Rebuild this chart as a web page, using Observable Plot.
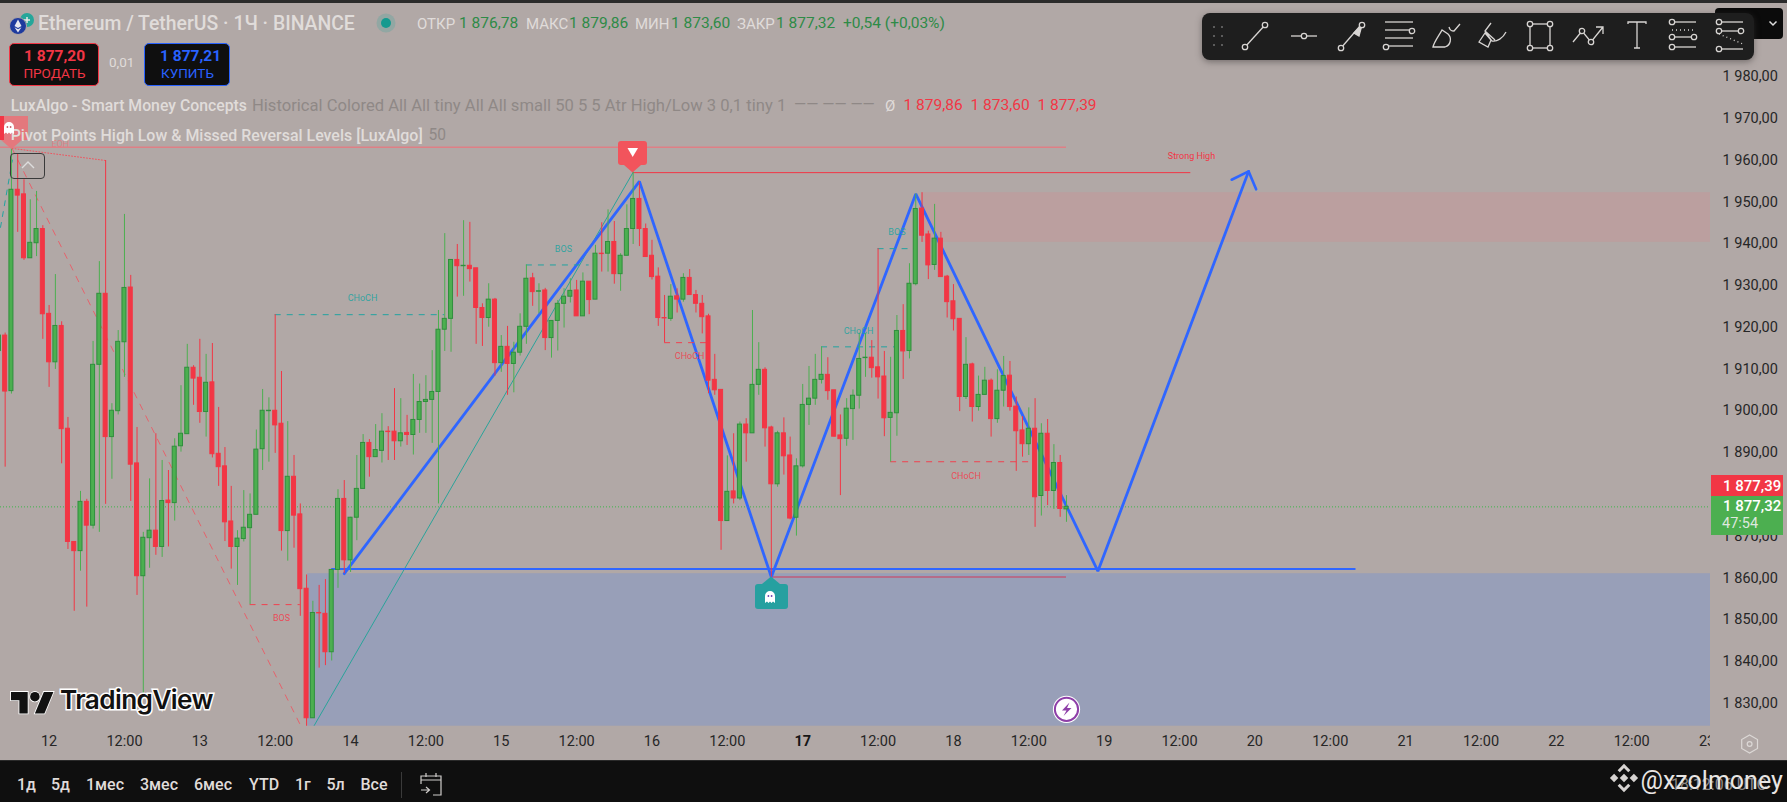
<!DOCTYPE html>
<html lang="ru">
<head>
<meta charset="utf-8">
<title>Ethereum / TetherUS · 1Ч · BINANCE</title>
<script src="https://cdn.jsdelivr.net/npm/d3@7"></script>
<script src="https://cdn.jsdelivr.net/npm/@observablehq/plot@0.6"></script>
<style>
html,body{margin:0;padding:0;width:1787px;height:802px;overflow:hidden;background:#b1a8a6;font-family:Roboto,"Noto Sans",sans-serif}
#chart{position:absolute;left:0;top:0;width:1787px;height:760px}
#chart svg{display:block}
.t{position:absolute;white-space:pre;line-height:1;transform:translateY(-50%)}
.box{position:absolute;box-sizing:border-box}
#topline{position:absolute;left:0;top:0;width:1787px;height:3px;background:#2b2b2b}
#bottom{position:absolute;left:0;top:760px;width:1787px;height:42px;background:#0f0f0f;border-top:1px solid #2a2a2a;box-sizing:border-box}
svg.ic{position:absolute;overflow:visible}
</style>
</head>
<body>
<div id="chart"></div>
<div id="overlay"></div>
<script>
// Candles: hour index since 12th 00:00, first candle at firstHour
const firstHour = -8;
const sideList = (
  "grgrrggr"+
  "rgrrrgrggr"+"gggrrggrgr"+"gggrrgrrrr"+"ggggggrrgr"+"rrgrrggrgg"+
  "grggrrgrgg"+"gggggrgrrr"+"grgrgggrgr"+"ggggrgrgrg"+"rgggrrrrrg"+
  "rgrrrrrrgr"+"grggrrgrrg"+"ggggrrrggg"+"grrrggrggr"+"rgrrrrgrgg"+
  "rggrrrgrgr"+"grg").split("");
const bodyTop = [1918.0,1918.0,1952.9,1952.9,1951.8,1940.2,1943.5,1943.5,
  1923.2,1920.3,1920.3,1895.7,1868.6,1878.2,1878.2,1911.0,1928.0,1928.0,
  1900.0,1916.5,1929.4,1929.5,1887.4,1869.6,1871.3,1871.3,1878.4,1878.5,
  1891.4,1894.5,1910.3,1910.3,1907.9,1906.7,1906.8,1889.7,1886.7,1873.5,
  1869.4,1872.0,1875.1,1890.7,1900.0,1900.0,1900.0,1896.9,1884.2,1884.2,
  1875.2,1857.4,1851.6,1851.6,1851.4,1861.9,1878.9,1878.9,1874.4,1881.3,
  1892.3,1892.3,1890.6,1895.0,1895.0,1895.0,1894.6,1894.7,1897.8,1902.1,
  1902.6,1904.5,1919.4,1922.0,1936.1,1936.1,1934.7,1934.7,1934.1,1924.6,
  1926.6,1926.6,1915.3,1915.3,1913.9,1920.1,1931.6,1931.7,1928.6,1928.8,
  1921.5,1925.6,1927.3,1928.7,1928.8,1930.9,1930.9,1937.6,1937.6,1940.4,
  1940.4,1937.1,1943.5,1950.7,1950.7,1943.5,1937.1,1932.1,1922.2,1927.3,
  1927.4,1931.8,1931.8,1927.7,1925.6,1922.6,1907.4,1905.0,1880.6,1880.7,
  1896.7,1896.7,1906.2,1909.8,1909.8,1896.0,1894.6,1894.6,1889.3,1886.7,
  1901.4,1902.9,1907.4,1908.6,1908.6,1904.9,1894.1,1900.5,1903.6,1912.4,
  1912.7,1912.7,1910.4,1908.2,1899.5,1919.1,1919.1,1930.4,1948.3,1948.4,
  1942.2,1941.2,1941.2,1932.1,1926.2,1922.0,1911.0,1911.1,1903.8,1907.2,
  1907.2,1904.8,1908.3,1908.4,1901.0,1895.3,1895.7,1895.7,1894.5,1894.5,
  1887.5,1887.5,1877.0];
const bodyBottom = [1914.3,1904.6,1904.7,1951.5,1936.5,1936.5,1940.1,1923.1,
  1911.6,1911.6,1895.6,1868.6,1866.4,1866.4,1872.5,1872.5,1911.0,1893.7,
  1893.7,1899.9,1916.4,1887.1,1860.4,1860.4,1869.5,1867.4,1867.4,1877.9,
  1877.9,1891.5,1894.4,1907.7,1899.7,1899.7,1889.6,1886.5,1873.3,1867.4,
  1867.4,1869.3,1871.9,1875.1,1890.8,1899.9,1896.5,1871.2,1871.2,1874.9,
  1857.3,1826.4,1826.4,1851.5,1842.2,1842.2,1861.9,1864.2,1864.2,1874.4,
  1881.3,1888.9,1888.9,1890.4,1894.9,1892.7,1892.7,1894.2,1894.2,1897.8,
  1902.1,1902.6,1904.5,1919.4,1922.0,1934.6,1934.6,1933.9,1924.6,1922.2,
  1922.2,1911.4,1911.4,1911.2,1911.2,1913.9,1920.1,1928.4,1928.5,1917.4,
  1917.4,1921.5,1925.6,1927.3,1922.6,1922.6,1926.5,1926.6,1937.5,1937.6,
  1932.7,1932.7,1937.1,1943.5,1943.5,1936.8,1932.0,1922.2,1922.1,1922.0,
  1926.6,1926.6,1927.7,1925.6,1922.4,1907.2,1904.9,1873.6,1873.6,1879.0,
  1879.0,1894.6,1894.6,1906.2,1895.8,1882.4,1882.4,1889.1,1874.2,1874.4,
  1886.7,1901.4,1902.9,1907.4,1904.7,1893.8,1893.2,1893.3,1900.4,1903.6,
  1912.6,1910.2,1908.0,1898.2,1898.3,1899.4,1914.2,1914.3,1930.3,1941.9,
  1934.8,1934.9,1932.0,1926.0,1921.9,1903.3,1903.3,1900.9,1900.9,1903.8,
  1898.0,1898.0,1904.8,1900.9,1895.1,1892.0,1892.0,1879.3,1879.6,1880.8,
  1880.8,1876.5,1876.4];
const highs = [1918.5,1918.6,1963.0,1961.5,1955.3,1950.5,1952.5,1944.3,
  1925.2,1932.6,1921.3,1898.4,1868.6,1880.7,1878.8,1916.6,1935.7,1959.9,
  1901.7,1919.2,1947.0,1932.4,1896.0,1870.9,1883.7,1894.5,1888.1,1885.7,
  1893.3,1906.0,1915.9,1910.8,1917.1,1913.5,1916.1,1900.8,1891.2,1881.9,
  1871.3,1880.9,1880.1,1895.4,1905.1,1903.1,1923.0,1909.4,1897.4,1889.3,
  1877.7,1860.7,1854.4,1858.2,1859.6,1861.9,1881.1,1883.3,1874.5,1889.3,
  1894.3,1893.1,1896.7,1899.3,1896.2,1905.3,1902.9,1898.9,1908.7,1906.4,
  1908.4,1914.4,1924.0,1942.4,1936.1,1939.8,1945.5,1945.1,1934.1,1925.6,
  1930.4,1926.9,1918.0,1920.2,1916.4,1923.2,1934.9,1932.9,1930.4,1929.3,
  1921.5,1926.4,1929.2,1931.6,1931.2,1933.0,1930.9,1939.6,1945.0,1948.1,
  1945.3,1937.6,1949.3,1957.1,1954.7,1944.7,1940.8,1934.2,1927.6,1930.2,
  1929.2,1932.8,1933.8,1928.8,1927.6,1923.1,1913.5,1905.0,1889.2,1894.5,
  1897.3,1898.1,1924.0,1916.3,1910.3,1896.3,1895.1,1898.3,1893.7,1888.5,
  1906.3,1910.6,1913.5,1915.3,1912.7,1904.9,1899.0,1902.9,1905.0,1918.6,
  1918.4,1916.8,1938.8,1914.2,1912.8,1922.8,1925.4,1935.2,1951.9,1952.2,
  1943.0,1949.4,1942.7,1932.4,1930.2,1922.0,1917.5,1911.4,1908.3,1910.4,
  1907.6,1909.8,1913.0,1911.8,1903.3,1898.6,1900.7,1902.9,1896.9,1897.9,
  1891.9,1889.3,1879.7];
const lows = [1914.0,1886.5,1904.0,1942.7,1936.0,1936.5,1936.9,1917.1,
  1905.6,1909.9,1887.3,1866.8,1852.0,1861.6,1853.0,1871.7,1870.9,1877.6,
  1883.6,1899.0,1908.0,1878.3,1855.8,1832.3,1862.3,1865.4,1864.9,1867.4,
  1873.6,1890.1,1894.4,1901.3,1897.0,1893.7,1888.7,1881.9,1868.7,1862.1,
  1858.2,1868.6,1853.6,1875.1,1885.7,1887.7,1889.8,1866.4,1864.0,1867.1,
  1850.8,1823.5,1826.4,1838.4,1839.0,1840.1,1857.5,1861.0,1861.3,1868.9,
  1881.3,1884.1,1888.9,1887.5,1888.1,1888.1,1891.3,1891.7,1889.4,1894.6,
  1894.6,1892.2,1877.7,1914.2,1914.0,1927.2,1927.4,1930.8,1915.9,1915.4,
  1920.0,1908.3,1909.2,1903.7,1904.3,1913.1,1915.9,1925.0,1923.2,1914.4,
  1912.6,1914.3,1919.8,1925.8,1922.6,1922.6,1923.0,1926.6,1933.2,1933.2,
  1930.3,1928.6,1937.1,1939.8,1939.3,1936.8,1931.3,1920.2,1916.3,1921.4,
  1923.4,1926.0,1927.7,1923.4,1918.4,1904.1,1903.7,1866.6,1873.6,1877.7,
  1878.5,1887.7,1894.6,1903.7,1891.3,1860.1,1881.7,1884.6,1873.9,1870.0,
  1886.3,1896.5,1901.3,1906.4,1902.5,1893.7,1879.7,1891.5,1892.9,1900.4,
  1908.0,1907.8,1902.8,1893.8,1887.7,1893.9,1907.5,1912.4,1929.9,1940.3,
  1931.4,1933.6,1932.0,1922.2,1919.1,1899.8,1902.7,1897.3,1899.9,1903.8,
  1893.7,1897.0,1900.9,1899.9,1885.5,1888.9,1889.3,1872.1,1874.8,1877.3,
  1876.4,1874.5,1873.3];

// Hand-drawn blue pattern and its arrow head
const patternHours = [47,94,115,138,167,191];
const patternPrices = [1861.0,1954.9,1860.2,1951.9,1861.6,1957.3];
const arrowHours = [188.3,191,192.2];
const arrowPrices = [1955.3,1957.3,1953.0];
const necklineHours = [45,208.1];
const necklinePrice = 1862.1;

// Zones
const demandZone = {h1:41.2,h2:264.55,p1:1824.5,p2:1861.0};
const supplyZone = {h1:139,h2:264.55,p1:1940.3,p2:1952.2};

// Smart Money Concepts structure
const structHours1 = [36,32,76,98,123,132,134];
const structHours2 = [63,40,86,105,135,138,157];
const structPrices = [1923.0,1853.6,1934.9,1916.3,1915.3,1938.8,1887.8];
const structKinds = ["up","down","up","down","up","up","down"];
const structNames = ["CHoCH","BOS","BOS","CHoCH","CHoCH","BOS","CHoCH"];
const structLabelHours = [49.9,37,81.9,102,128.9,135,146];
const structLabelPrices = [1926.9,1850.3,1938.8,1913.0,1919.0,1942.7,1884.3];

const tealLeg = {h:[42.15,93],p:[1824.5,1957.1]};
const tealEdge = {h:[-7.74,-5.84],p:[1943.9,1960]};
const redLeg = {h:[-5.9,41],p:[1962.8,1821.8]};
const redDotted = {h:[-5.9,9],p:[1962.8,1959.9]};
const strongHigh = {h:[93,181.8],p:1957.0};
const eqh = {h:[-7.74,162],p:1963.1};
const lowLine = {h:[115,162],p:1860.2};
const lastPrice = 1877.0;

// Axes
const priceTicks = d3.range(1830,1990,10);
const priceLabel = v => { const s = String(v); return s[0]+" "+s.slice(1)+",00"; };
const hourTicks = d3.range(0,265,12);
const dayNames = ["12","13","14","15","16","17","18","19","20","21","22","23"];
const hourLabel = h => h % 24 ? "12:00" : dayNames[h/24];

const candles = sideList.map((s,i)=>({h:firstHour+i,side:s,top:bodyTop[i],bottom:bodyBottom[i],high:highs[i],low:lows[i]}));
const GREEN="#4caf50",GREENB="#2f8f3d",RED="#f23645",TEAL="#22a3a0",BLUE="#2f66ff";
const pts=(h,p)=>h.map((x,i)=>({x,y:Array.isArray(p)?p[i]:p}));
const structs = structHours1.map((h,i)=>({h1:h,h2:structHours2[i],p:structPrices[i],kind:structKinds[i]}));
const structLabels = structNames.map((n,i)=>({n,h:structLabelHours[i],p:structLabelPrices[i],kind:structKinds[i]}));
const kc = d => d.kind==="up"?TEAL:"#f0414f";

const plot = Plot.plot({
  width:1787,height:760,marginLeft:0,marginRight:77,marginTop:0,marginBottom:34.3,
  style:{background:"#b1a8a6",fontFamily:"Roboto, 'Noto Sans', sans-serif",overflow:"visible"},
  x:{type:"linear",domain:[-7.74,264.55],axis:null},
  y:{type:"linear",domain:[1824.5,1998.2],axis:null},
  marks:[
    Plot.rect([demandZone],{x1:"h1",x2:"h2",y1:"p1",y2:"p2",fill:"#989fb8"}),
    Plot.rect([supplyZone],{x1:"h1",x2:"h2",y1:"p1",y2:"p2",fill:"#bb9f9f"}),
    Plot.ruleY([eqh.p],{x1:eqh.h[0],x2:eqh.h[1],stroke:"#df7f85",strokeWidth:1.5,clip:true}),
    Plot.ruleY([lowLine.p],{x1:lowLine.h[0],x2:lowLine.h[1],stroke:"#b56c88",strokeWidth:2}),
    Plot.ruleY([strongHigh.p],{x1:strongHigh.h[0],x2:strongHigh.h[1],stroke:RED,strokeWidth:1}),
    Plot.line(pts(tealLeg.h,tealLeg.p),{x:"x",y:"y",stroke:"#2aa39a",strokeWidth:1,clip:true}),
    Plot.line(pts(tealEdge.h,tealEdge.p),{x:"x",y:"y",stroke:TEAL,strokeWidth:1,strokeDasharray:"5 6",clip:true}),
    Plot.line(pts(redLeg.h,redLeg.p),{x:"x",y:"y",stroke:"#ee5560",strokeOpacity:.85,strokeWidth:1,strokeDasharray:"6 7",clip:true}),
    Plot.line(pts(redDotted.h,redDotted.p),{x:"x",y:"y",stroke:"#ee5560",strokeWidth:1,strokeDasharray:"1 2"}),
    Plot.ruleY([lastPrice],{stroke:"#3db54a",strokeWidth:1,strokeDasharray:"1 2",clip:true}),
    Plot.line(pts(patternHours,patternPrices),{x:"x",y:"y",stroke:BLUE,strokeWidth:2.8,strokeLinejoin:"miter"}),
    Plot.line(pts(arrowHours,arrowPrices),{x:"x",y:"y",stroke:BLUE,strokeWidth:2.6}),
    Plot.ruleY([necklinePrice],{x1:necklineHours[0],x2:necklineHours[1],stroke:BLUE,strokeWidth:2}),
    Plot.ruleY(structs,{y:"p",x1:"h1",x2:"h2",stroke:kc,strokeWidth:1,strokeDasharray:"6 6"}),
    Plot.ruleX(candles,{x:"h",y1:"low",y2:"high",stroke:d=>d.side==="g"?GREEN:RED,strokeWidth:1,clip:true}),
    Plot.rect(candles,{x1:d=>d.h-0.32,x2:d=>d.h+0.32,y1:"bottom",y2:"top",fill:d=>d.side==="g"?GREEN:RED,stroke:d=>d.side==="g"?GREENB:RED,strokeWidth:1,clip:true}),
    Plot.text(structLabels,{x:"h",y:"p",text:"n",fill:kc,fontSize:9,fillOpacity:.9}),
    Plot.text(["Strong High"],{x:[181.9],y:[1960.9],fill:RED,fontSize:9}),
    Plot.text(["EQH"],{x:[1.8],y:[1963.9],fill:"#df7f85",fontSize:9}),
    Plot.axisY({anchor:"right",ticks:priceTicks,tickFormat:priceLabel,tickSize:0,tickPadding:12,fontSize:14.5,fill:"#262626",label:null}),
    Plot.axisX({anchor:"bottom",ticks:hourTicks.filter(h=>h!==120),tickFormat:hourLabel,tickSize:0,tickPadding:10,fontSize:14.5,fill:"#262626",label:null}),
    Plot.axisX({anchor:"bottom",ticks:[120],tickFormat:hourLabel,tickSize:0,tickPadding:10,fontSize:14.5,fontWeight:"bold",fill:"#161616",label:null})
  ]
});
document.getElementById("chart").append(plot);

// Interface chrome around the chart
const pale="#e0dcda",dim="#8f8886",g2="#2e8b47",r2="#f23645";
const texts = [
  ["Ethereum / TetherUS · 1Ч · BINANCE",38,24,19.4,pale,500],
  ["ОТКР",417,24,15,pale,400],["1 876,78",459,24,15.5,g2,400],
  ["МАКС",526,24,15,pale,400],["1 879,86",569,24,15.5,g2,400],
  ["МИН",635,24,15,pale,400],["1 873,60",671,24,15.5,g2,400],
  ["ЗАКР",737,24,15,pale,400],["1 877,32",776,24,15.5,g2,400],
  ["+0,54 (+0,03%)",843,24,15.5,g2,400],
  ["0,01",109,63,13.5,pale,400],
  ["LuxAlgo - Smart Money Concepts",10.7,105.5,15.8,pale,500],
  ["Historical Colored All All tiny All All small 50 5 5 Atr High/Low 3 0,1 tiny 1",252,105.5,16.6,dim,400],
  ["—— —— ——",794,105.5,15.6,dim,400],
  ["Ø",885,105.5,15,pale,400],["1 879,86",903.5,105.5,15.5,r2,400],["1 873,60",970.5,105.5,15.5,r2,400],["1 877,39",1037.4,105.5,15.5,r2,400],
  ["Pivot Points High Low & Missed Reversal Levels [LuxAlgo]",10.7,135.7,15.95,pale,500],["50",428.6,135.7,15.6,dim,400],
  ["1д",17,785,16,pale,500],["5д",51,785,16,pale,500],["1мес",86,785,16,pale,500],["3мес",140,785,16,pale,500],["6мес",194,785,16,pale,500],["YTD",249,785,16,pale,500],["1г",295,785,16,pale,500],["5л",326.4,785,16,pale,500],["Все",360.5,785,16,pale,500],
  ["18:12:06 UTC",1671,785,16,"#8c8784",400],
  ["@xzolmoney",1640.5,780,25,"#e8e5e3",400],
  ["1 877,39",1723,485.5,15,"#fff",500],["1 877,32",1723,506,15,"#fff",500],["47:54",1722,524,14.5,"#dfe8df",400]
];
const boxes = [
  [1710,734,14,20,"#b1a8a6",0,""],
  [1715,8,68,31,"#0b0b0b",4,""],
  [1202.3,13.3,552,46.7,"#1e1e1e",8,"box-shadow:0 2px 6px rgba(60,55,55,.5)"],
  [9.2,43.3,89.5,42.4,"#0f0f0f",5,"border:1px solid #f23645"],
  [144.3,43.3,86,42.4,"#0f0f0f",5,"border:1px solid #2962ff"],
  [0,116,27.5,24,"#e4787d",0,""],
  [0,116,4,24,"#f23645",0,""],
  [10.3,153,35.2,25.7,"transparent",4,"border:1px solid #3a3a3a"],
  [618.4,141,28.3,24,"#f2545c",3,""],
  [755,584,32.5,25,"#26a0a0",3,""],
  [1711,475,72,21,"#f23645",0,""],
  [1711,495.7,72,39,"#4caf50",0,""],
  [401,771.7,1,26,"#3a3a3a",0,""]
];
let html = '<div id="topline"></div><div id="bottom"></div>';
for (const [x,y,w,h,c,r,e] of boxes) html += `<div class="box" style="left:${x}px;top:${y}px;width:${w}px;height:${h}px;background:${c};border-radius:${r}px;${e}"></div>`;
for (const [s,x,y,f,c,w] of texts) html += `<div class="t" style="left:${x}px;top:${y}px;font-size:${f}px;color:${c};font-weight:${w}">${s.replace(/&/g,"&amp;")}</div>`;
html += `<div class="t" style="left:24px;top:56.7px;width:54px;text-align:center;font-size:15.5px;font-weight:700;color:#f23645">1 877,20</div>
<div class="t" style="left:22px;top:74px;width:65px;text-align:center;font-size:13.5px;color:#f23645">ПРОДАТЬ</div>
<div class="t" style="left:160px;top:56.7px;width:54px;text-align:center;font-size:15.5px;font-weight:700;color:#2962ff">1 877,21</div>
<div class="t" style="left:155px;top:74px;width:65px;text-align:center;font-size:13.5px;color:#2962ff">КУПИТЬ</div>`;

const ghost=(x,y,s,c)=>`<svg class="ic" style="left:${x-8}px;top:${y-8}px" width="16" height="16" viewBox="-8 -8 16 16"><path transform="scale(${s})" d="M-5 6V-1a5 5 0 0 1 10 0V6L3 4.6 1.5 6 0 4.6-1.5 6-3 4.6Z" fill="#fff"/><circle cx="-1.6" cy="-1" r=".9" fill="${c}"/><circle cx="1.6" cy="-1" r=".9" fill="${c}"/></svg>`;
const I = (x,inner)=>`<g transform="translate(${x},0)">${inner}</g>`;
const c=(x,y,r=2.7)=>`<circle cx="${x}" cy="${y}" r="${r}" fill="#1e1e1e"/>`;
const L=(a,b,d,e,x="")=>`<line x1="${a}" y1="${b}" x2="${d}" y2="${e}" ${x}/>`;
const toolX=[1255,1304,1351,1399,1446,1493,1540,1589,1637,1683,1730];
const icons=[
  L(-10,11,10,-11)+c(-10,11)+c(10,-11),
  L(-13,0,13,0)+c(0,0),
  L(-10,12,9,-10)+'<path d="M3-3 11-11 8 0Z" fill="#d8d5d3"/>'+c(-10,12)+c(11,-11),
  L(-14,-14,14,-14)+L(-14,-6,14,-6)+L(-14,2,14,2)+L(-12,10,14,10)+c(13,-5)+c(-13,11),
  '<path d="M-13 11H-1C5 9 6 2 2-2L-4-6C-6-2-12 6-13 11Z M3-9C4-5 6-5 8-5L14-12"/>',
  '<path d="M-2-13-8-5-1 5 C4 6 10 2 13-4M-8-5 2 4M-14 6-8-3-2 4-5 11Z"/>',
  `<rect x="-10" y="-12" width="20" height="24"/>`+c(-10,-12)+c(10,-12)+c(-10,12)+c(10,12),
  '<path d="M-16 6-7-5 2 6 14-9M7-9H14V-2"/>'+c(-7,-5)+c(2,6),
  '<path d="M-9-12V-14H9V-12M0-14V12M-3 12H3"/>',
  L(-11,-14,13,-14)+L(-11,-6,13,-6,'stroke-dasharray="1 3"')+L(-11,1,13,1)+L(-11,11,13,11)+c(-11,-14)+c(11,1)+c(-11,1)+c(-11,11),
  L(-11,-14,13,-14)+L(-11,-5,13,-5)+L(-11,-2,13,8,'stroke-dasharray="1 3"')+L(-11,13,13,13)+c(-11,-5)+c(11,-5)+c(-11,-14)+c(-11,13)
];
html += `<svg class="ic" style="left:0;top:36px" width="1787" height="1" fill="none" stroke="#d8d5d3" stroke-width="1.3">${toolX.map((x,i)=>I(x,icons[i])).join("")}
  <g fill="#5b5b5b" stroke="none">${[-10,-1,8].map(dy=>[-4,4].map(dx=>`<rect x="${1217+dx}" y="${dy}" width="2" height="2"/>`).join("")).join("")}</g></svg>`;

html += `<svg class="ic" style="left:1768px;top:20px" width="12" height="8" fill="none" stroke="#ddd" stroke-width="1.5"><path d="M1.5 1.5 5 5 8.5 1.5"/></svg>`;
html += `<svg class="ic" style="left:0;top:0" width="1787" height="760">
  <path d="M1 140 11.5 149 22 140Z" fill="#e4787d"/>
  <path d="M624 165 632.5 172.5 641 165Z" fill="#f2545c"/>
  <path d="M771 576.5 762 584H780Z" fill="#26a0a0"/>
  <path d="M627.5 148H638L632.7 157Z" fill="#fff"/>
  <path d="M22 168 28 162 34 168" fill="none" stroke="#ddd" stroke-width="1.4"/>
  <circle cx="1066.5" cy="709.3" r="13.6" fill="#fff"/><circle cx="1066.5" cy="709.3" r="11.6" fill="#fff" stroke="#8e3fa8" stroke-width="2"/>
  <path d="M1069.5 702.5 1062 710.5H1066.5L1063.5 716 1071.5 708H1067Z" fill="#8e3fa8"/>
  <path d="M1749.6 735 1757.5 739.5V748.5L1749.6 753 1741.7 748.5V739.5Z" fill="none" stroke="#dcd8d6" stroke-width="1.2"/><circle cx="1749.6" cy="744" r="2.4" fill="none" stroke="#dcd8d6" stroke-width="1.2"/>
</svg>`;
html += ghost(9,128,1,"#c9636a") + ghost(769.5,597,1,"#6a3fb0");
html += `<svg class="ic" style="left:8px;top:11px" width="28" height="26">
  <circle cx="19" cy="9" r="7" fill="#26a69a"/><path d="M16 9h6M19 6v6" stroke="#e8e8e8" stroke-width="1.5"/>
  <circle cx="10" cy="15" r="8.5" fill="#1e3a9e" stroke="#b1a8a6"/><path d="M10 8.5 6.5 15 10 17 13.5 15ZM6.5 16.2 10 21.5 13.5 16.2 10 18.3Z" fill="#e8e8ef"/></svg>
  <svg class="ic" style="left:376px;top:13px" width="20" height="20"><circle cx="10" cy="10" r="9.5" fill="#26a69a" fill-opacity=".22"/><circle cx="10" cy="10" r="5" fill="#149a8f"/></svg>`;
html += `<svg class="ic" style="left:419px;top:771px" width="24" height="26" fill="none" stroke="#d0cdcb" stroke-width="1.2">
  <path d="M2 13V5H22V24H14M2 9H22M7 2V6M17 2V6M2 19H10M7 16 10.5 19 7 22"/></svg>`;
html += `<svg class="ic" style="left:11px;top:687px" width="43" height="27" viewBox="0 0 36 22.4"><g fill="#111" stroke="#fff" stroke-width="1.4" paint-order="stroke"><path d="M14 22H7V11H0V4h14z"/><path d="M28 22h-8l7.5-18h8z"/><circle cx="20" cy="8" r="4"/></g></svg>
<div class="t" style="left:60px;top:699.5px;font-family:Inter,Lato,sans-serif;font-size:26.2px;font-weight:600;letter-spacing:-.6px;color:#111;-webkit-text-stroke:3px #fff;paint-order:stroke fill">TradingView</div>`;
html += `<svg class="ic" style="left:1610px;top:765px" width="28" height="26" viewBox="-14 -13 28 26" fill="#d6d3d1"><g transform="rotate(45)">
  <rect x="-3" y="-3" width="6" height="6"/><path d="M-10-10H-1V-7H-7V-1H-10Z"/><path d="M10 10H1V7H7V1H10Z"/><rect x="4" y="-10" width="6" height="6"/><rect x="-10" y="4" width="6" height="6"/></g></svg>`;
document.getElementById("overlay").innerHTML = html;
</script>
</body>
</html>
